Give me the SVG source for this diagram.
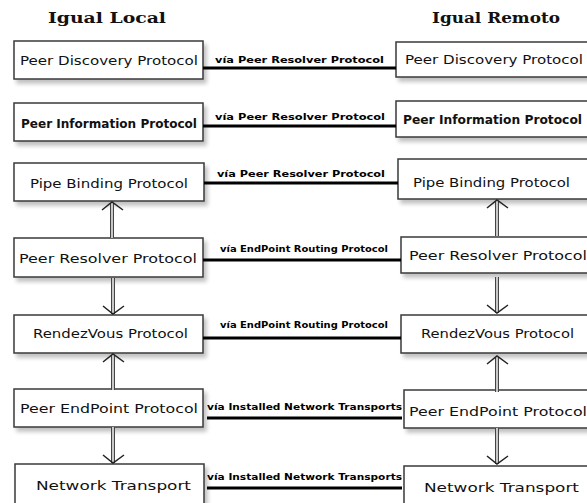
<svg xmlns="http://www.w3.org/2000/svg" width="587" height="503" viewBox="0 0 587 503">
  <defs>
    <filter id="shadow" x="-10%" y="-20%" width="130%" height="160%">
      <feGaussianBlur in="SourceAlpha" stdDeviation="2"/>
      <feOffset dx="3" dy="4" result="b"/>
      <feComponentTransfer><feFuncA type="linear" slope="0.25"/></feComponentTransfer>
      <feMerge><feMergeNode/><feMergeNode in="SourceGraphic"/></feMerge>
    </filter>
    <g id="up-arrow">
      <line class="shaft-out" x1="0" y1="1" x2="0" y2="36"/>
      <line class="shaft-in" x1="0" y1="1" x2="0" y2="36"/>
      <polyline class="head" points="-10,8 0,0 11,8"/>
    </g>
    <g id="down-arrow">
      <line class="shaft-out" x1="0" y1="0" x2="0" y2="-36"/>
      <line class="shaft-in" x1="0" y1="0" x2="0" y2="-36"/>
      <polyline class="head" points="-10,-8 0,0 11,-8"/>
    </g>
  </defs>
  <style>
    .box { fill: #ffffff; stroke: #3a3a3a; stroke-width: 1.5; filter: url(#shadow); }
    .label { font-family: "DejaVu Sans", Verdana, sans-serif; font-size: 13px; fill: #111; }
    .label-b { font-family: "DejaVu Sans", Verdana, sans-serif; font-size: 12px; font-weight: bold; fill: #111; }
    .head-t { font-family: "DejaVu Serif", "Liberation Serif", serif; font-size: 15px; font-weight: bold; fill: #111; }
    .link { stroke: #000; stroke-width: 3; fill: none; }
    .link-t { font-family: "DejaVu Sans", Verdana, sans-serif; font-size: 9.5px; font-weight: bold; fill: #000; }
    .shaft-out { stroke: #444; stroke-width: 4; }
    .shaft-in { stroke: #c8c8c8; stroke-width: 2; }
    .head { fill: none; stroke: #222; stroke-width: 1.5; }
  </style>

  <rect width="587" height="503" fill="#ffffff"/>

  <!-- column titles -->
  <text class="head-t" x="48" y="23" textLength="118" lengthAdjust="spacingAndGlyphs">Igual Local</text>
  <text class="head-t" x="432" y="23" textLength="128" lengthAdjust="spacingAndGlyphs">Igual Remoto</text>

  <!-- local peer stack -->
  <g id="local-discovery">
    <rect class="box" x="14" y="41" width="189" height="38"/>
    <text class="label" x="20" y="65" textLength="178" lengthAdjust="spacingAndGlyphs">Peer Discovery Protocol</text>
  </g>
  <g id="local-information">
    <rect class="box" x="14" y="103" width="189" height="38"/>
    <text class="label-b" x="21" y="128" textLength="176" lengthAdjust="spacingAndGlyphs">Peer Information Protocol</text>
  </g>
  <g id="local-pipe">
    <rect class="box" x="14" y="163" width="190" height="38"/>
    <text class="label" x="30" y="188" textLength="158" lengthAdjust="spacingAndGlyphs">Pipe Binding Protocol</text>
  </g>
  <g id="local-resolver">
    <rect class="box" x="14" y="238" width="189" height="39"/>
    <text class="label" x="19" y="263" textLength="178" lengthAdjust="spacingAndGlyphs">Peer Resolver Protocol</text>
  </g>
  <g id="local-rendezvous">
    <rect class="box" x="14" y="315" width="189" height="38"/>
    <text class="label" x="33" y="338" textLength="155" lengthAdjust="spacingAndGlyphs">RendezVous Protocol</text>
  </g>
  <g id="local-endpoint">
    <rect class="box" x="14" y="389" width="189" height="38"/>
    <text class="label" x="20" y="413" textLength="178" lengthAdjust="spacingAndGlyphs">Peer EndPoint Protocol</text>
  </g>
  <g id="local-transport">
    <rect class="box" x="15" y="464" width="189" height="50"/>
    <text class="label" x="36" y="490" textLength="155" lengthAdjust="spacingAndGlyphs">Network Transport</text>
  </g>

  <!-- remote peer stack -->
  <g id="remote-discovery">
    <rect class="box" x="396" y="42" width="210" height="35"/>
    <text class="label" x="405" y="64" textLength="178" lengthAdjust="spacingAndGlyphs">Peer Discovery Protocol</text>
  </g>
  <g id="remote-information">
    <rect class="box" x="396" y="101" width="210" height="36"/>
    <text class="label-b" x="403" y="124" textLength="179" lengthAdjust="spacingAndGlyphs">Peer Information Protocol</text>
  </g>
  <g id="remote-pipe">
    <rect class="box" x="398" y="159" width="210" height="40"/>
    <text class="label" x="413" y="187" textLength="157" lengthAdjust="spacingAndGlyphs">Pipe Binding Protocol</text>
  </g>
  <g id="remote-resolver">
    <rect class="box" x="401" y="237" width="210" height="36"/>
    <text class="label" x="409" y="260" textLength="178" lengthAdjust="spacingAndGlyphs">Peer Resolver Protocol</text>
  </g>
  <g id="remote-rendezvous">
    <rect class="box" x="401" y="315" width="210" height="38"/>
    <text class="label" x="421" y="338" textLength="153" lengthAdjust="spacingAndGlyphs">RendezVous Protocol</text>
  </g>
  <g id="remote-endpoint">
    <rect class="box" x="404" y="390" width="210" height="38"/>
    <text class="label" x="409" y="416" textLength="178" lengthAdjust="spacingAndGlyphs">Peer EndPoint Protocol</text>
  </g>
  <g id="remote-transport">
    <rect class="box" x="404" y="466" width="210" height="50"/>
    <text class="label" x="424" y="492" textLength="155" lengthAdjust="spacingAndGlyphs">Network Transport</text>
  </g>

  <!-- connectors -->
  <g id="connectors">
    <line class="link" x1="203" y1="68" x2="396" y2="68"/>
    <text class="link-t" x="215" y="63" textLength="169" lengthAdjust="spacingAndGlyphs">vía Peer Resolver Protocol</text>

    <line class="link" x1="203" y1="126" x2="396" y2="126"/>
    <text class="link-t" x="215" y="120" textLength="170" lengthAdjust="spacingAndGlyphs">vía Peer Resolver Protocol</text>

    <line class="link" x1="204" y1="183" x2="398" y2="183"/>
    <text class="link-t" x="217" y="177" textLength="168" lengthAdjust="spacingAndGlyphs">vía Peer Resolver Protocol</text>

    <line class="link" x1="203" y1="260" x2="401" y2="260"/>
    <text class="link-t" x="220" y="252" textLength="168" lengthAdjust="spacingAndGlyphs">vía EndPoint Routing Protocol</text>

    <line class="link" x1="203" y1="338" x2="401" y2="338"/>
    <text class="link-t" x="220" y="328" textLength="168" lengthAdjust="spacingAndGlyphs">vía EndPoint Routing Protocol</text>

    <line class="link" x1="207" y1="418" x2="402" y2="418"/>
    <text class="link-t" x="207" y="410" textLength="195" lengthAdjust="spacingAndGlyphs">vía Installed Network Transports</text>

    <line class="link" x1="207" y1="488" x2="402" y2="488"/>
    <text class="link-t" x="207" y="480" textLength="195" lengthAdjust="spacingAndGlyphs">vía Installed Network Transports</text>

    <!-- local stack arrows -->
    <use href="#up-arrow" x="112" y="202"/>
    <use href="#down-arrow" x="113" y="314"/>
    <use href="#up-arrow" x="113" y="354"/>
    <use href="#down-arrow" x="113" y="463"/>

    <!-- remote stack arrows -->
    <use href="#up-arrow" x="497" y="200"/>
    <use href="#down-arrow" x="497" y="313"/>
    <use href="#up-arrow" x="497" y="356"/>
    <use href="#down-arrow" x="497" y="464"/>
  </g>
</svg>
